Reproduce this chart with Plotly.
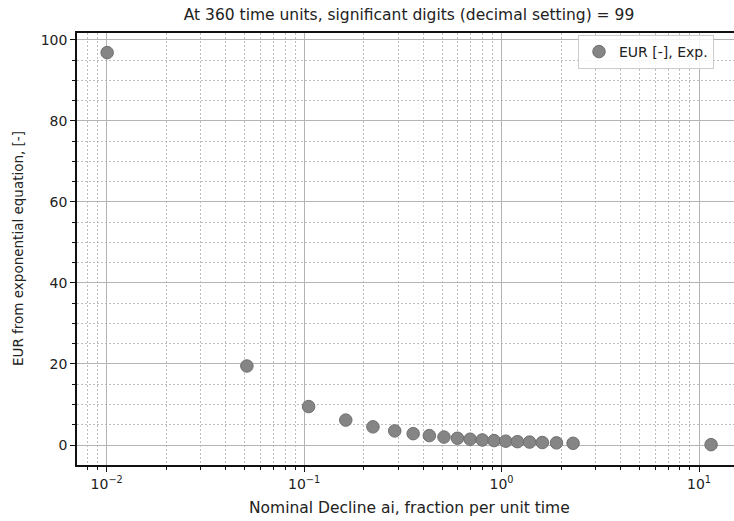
import plotly.graph_objects as go

# Data
nominal_decline = [0.01005, 0.05129, 0.10536, 0.16252, 0.22314, 0.28768, 0.35667,
                   0.43078, 0.51083, 0.59784, 0.69315, 0.79851, 0.91629, 1.04982,
                   1.20397, 1.38629, 1.60944, 1.89712, 2.30259, 11.51293]
eur_exp = [96.83, 19.50, 9.49, 6.15, 4.48, 3.48, 2.80, 2.32, 1.96, 1.67, 1.44,
           1.25, 1.09, 0.95, 0.83, 0.72, 0.62, 0.53, 0.43, 0.087]

x_major_vals = [0.01, 0.1, 1, 10]
x_major_text = ["10<sup>\u22122</sup>", "10<sup>\u22121</sup>", "10<sup>0</sup>", "10<sup>1</sup>"]
x_minor_vals = [0.008, 0.009] + [d * 0.01 for d in range(2, 10)] + [d * 0.1 for d in range(2, 10)] + \
               [d * 1.0 for d in range(2, 10)]
y_major_vals = [0, 20, 40, 60, 80, 100]
y_minor_vals = [5, 10, 15, 25, 30, 35, 45, 50, 55, 65, 70, 75, 85, 90, 95]

title_text = "At 360 time units, significant digits (decimal setting) = 99"
x_label = "Nominal Decline ai, fraction per unit time"
y_label = "EUR from exponential equation, [-]"
legend_label = "EUR [-], Exp."

FONT = "DejaVu Sans"
TXT = "#222222"

fig = go.Figure()
fig.add_trace(go.Scatter(
    x=nominal_decline, y=eur_exp, mode="markers", name=legend_label,
    marker=dict(size=12.5, color="#858585", line=dict(width=1, color="#6e6e6e")),
))

L, R, T, B = 77, 0, 33, 56
W, H = 734, 521
pw = W - L - R
ph = H - T - B

fig.update_layout(
    width=W, height=H,
    margin=dict(l=L, r=R, t=T, b=B, pad=0),
    paper_bgcolor="white", plot_bgcolor="white",
    font=dict(family=FONT, size=14, color=TXT),
    showlegend=True,
    legend=dict(x=(578 - L) / pw, y=1 - 2 / ph, xanchor="left", yanchor="top",
                bgcolor="rgba(255,255,255,0.85)", bordercolor="#cccccc", borderwidth=1,
                font=dict(family=FONT, size=14, color=TXT)),
    title=dict(text=title_text, xref="paper", x=(409 - L) / pw, xanchor="center",
               yref="container", y=1 - 15 / H, yanchor="middle",
               font=dict(family=FONT, size=15.5, color=TXT)),
)

MINOR_DASH = "1.5px,2.5px"

fig.update_xaxes(
    type="log", range=[-2.1505, 1.1773],
    tickvals=x_major_vals, ticktext=x_major_text,
    ticks="outside", ticklen=5, tickwidth=1.3, tickcolor="#111",
    showline=True, linecolor="#111", linewidth=1.6, mirror=True,
    showgrid=True, gridcolor="#b4b4b4", gridwidth=1.4,
    tickfont=dict(family=FONT, size=14, color=TXT),
    zeroline=False,
    minor=dict(tickvals=x_minor_vals, ticks="outside", ticklen=3, tickwidth=1, tickcolor="#111",
               showgrid=True, gridcolor="#bdbdbd", gridwidth=1, griddash=MINOR_DASH),
)
fig.update_yaxes(
    range=[-4.93, 101.67],
    tickvals=y_major_vals,
    ticks="outside", ticklen=5, tickwidth=1.3, tickcolor="#111",
    showline=True, linecolor="#111", linewidth=1.6, mirror=False,
    showgrid=True, gridcolor="#b4b4b4", gridwidth=1.4,
    tickfont=dict(family=FONT, size=14, color=TXT),
    zeroline=False,
    minor=dict(tickvals=y_minor_vals, ticks="outside", ticklen=3, tickwidth=1, tickcolor="#111",
               showgrid=True, gridcolor="#bdbdbd", gridwidth=1, griddash=MINOR_DASH),
)

fig.add_annotation(text=x_label, xref="paper", yref="paper",
                   x=(409 - L) / pw, y=-(508 - (T + ph)) / ph, xanchor="center", yanchor="middle",
                   showarrow=False, font=dict(family=FONT, size=15.5, color=TXT))
fig.add_annotation(text=y_label, xref="paper", yref="paper",
                   x=(18 - L) / pw, y=(T + ph - 249) / ph, xanchor="center", yanchor="middle",
                   textangle=-90, showarrow=False, font=dict(family=FONT, size=13.5, color=TXT))

fig.write_html("out.html")
